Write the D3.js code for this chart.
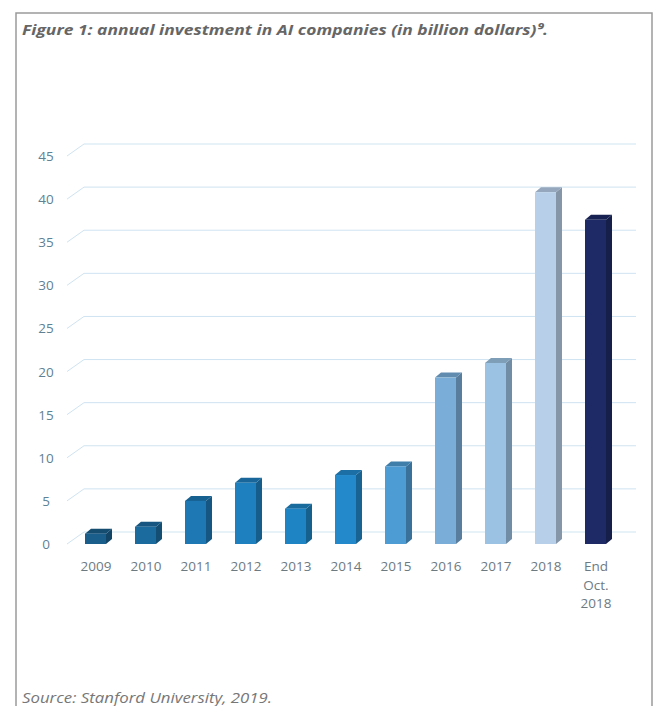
<!DOCTYPE html>
<html>
<head>
<meta charset="utf-8">
<script src="https://cdn.jsdelivr.net/npm/d3@7"></script>
<style>
  body { margin: 0; background: #fff; }
  text { font-family: "Open Sans", sans-serif; }
</style>
</head>
<body>
<script>
// chart data
var categories = ["2009", "2010", "2011", "2012", "2013", "2014", "2015", "2016", "2017", "2018", "End Oct. 2018"];
var investment = [1.2, 2, 5, 7.1, 4.1, 8, 9, 19.3, 21, 40.8, 37.6];
var barColors = ["#1a5f8c", "#1b6b9f", "#1d78b3", "#1f80bf", "#1f84c4", "#2389cb", "#4e9cd4", "#7aaed9", "#9cc2e3", "#b8cfe9", "#1e2a66"];
var yTicks = [0, 5, 10, 15, 20, 25, 30, 35, 40, 45];

var svgWidth = 658;
var svgHeight = 706;
var depth = {x: 6, y: -5};      // bar depth
var wall = {x: 17, y: -12};     // grid back wall offset

var svg = d3.select("body")
	.append("svg")
		.attr("width", svgWidth)
		.attr("height", svgHeight);

//frame
svg.append("path")
	.attr("d", "M16,720 L16,13 L652,13 L652,720")
	.attr("fill", "none")
	.attr("stroke", "#9a9a9a")
	.attr("stroke-width", 1.5);

svg.append("text")
	.attr("x", 22)
	.attr("y", 35)
	.attr("fill", "#666")
	.style("font-size", "15px")
	.style("font-weight", "bold")
	.style("font-style", "italic")
	.attr("textLength", 526)
	.attr("lengthAdjust", "spacingAndGlyphs")
	.text("Figure 1: annual investment in AI companies (in billion dollars)⁹.");

var xScale = d3.scaleBand()
	.domain(categories)
	.range([71, 621]);

var yScale = d3.scaleLinear()
	.domain([0, 45])
	.range([544, 156]);

//grid lines, drawn in perspective
var grid = svg.append("g").attr("class", "grid");
grid.selectAll("path")
	.data(yTicks)
	.enter().append("path")
		.attr("d", function(d){
			var y = yScale(d);
			return "M67," + y + " L" + (67 + wall.x) + "," + (y + wall.y) + " L636," + (y + wall.y);
		})
		.attr("fill", "none")
		.attr("stroke", "#cfe3f1")
		.attr("stroke-width", 1);

grid.selectAll("text")
	.data(yTicks)
	.enter().append("text")
		.attr("x", 46)
		.attr("y", function(d){ return yScale(d) + 5; })
		.attr("text-anchor", "middle")
		.attr("fill", "#5f8193")
		.style("font-size", "13.5px")
		.text(function(d){ return d; });

//3d bars
var barW = 21;
var bars = svg.append("g").attr("class", "bars")
	.selectAll("g")
	.data(investment)
	.enter().append("g");

function x0(i){ return xScale(categories[i]) + xScale.bandwidth() / 2 - barW / 2 - 0.5; }

bars.append("path")  // side
	.attr("d", function(d, i){
		var x = x0(i) + barW, yt = yScale(d), yb = yScale(0);
		return "M" + x + "," + yb + " L" + x + "," + yt + " L" + (x + depth.x) + "," + (yt + depth.y) +
			" L" + (x + depth.x) + "," + (yb + depth.y) + "Z";
	})
	.attr("fill", function(d, i){ return d3.color(barColors[i]).darker(0.9); });

bars.append("path")  // top
	.attr("d", function(d, i){
		var x = x0(i), yt = yScale(d);
		return "M" + x + "," + yt + " L" + (x + depth.x) + "," + (yt + depth.y) + " L" + (x + barW + depth.x) + "," + (yt + depth.y) +
			" L" + (x + barW) + "," + yt + "Z";
	})
	.attr("fill", function(d, i){ return d3.color(barColors[i]).darker(0.6); });

bars.append("rect")  // front
	.attr("x", function(d, i){ return x0(i); })
	.attr("y", function(d){ return yScale(d); })
	.attr("width", barW)
	.attr("height", function(d){ return yScale(0) - yScale(d); })
	.attr("fill", function(d, i){ return barColors[i]; });

//x labels
var xLabels = svg.append("g").attr("class", "xlabels")
	.selectAll("text")
	.data(categories)
	.enter().append("text")
		.attr("x", function(d){ return xScale(d) + xScale.bandwidth() / 2; })
		.attr("y", 571)
		.attr("text-anchor", "middle")
		.attr("fill", "#6e7a82")
		.style("font-size", "13.5px");

xLabels.each(function(d){
	var words = d === "End Oct. 2018" ? ["End", "Oct.", "2018"] : [d];
	var t = d3.select(this);
	words.forEach(function(w, k){
		t.append("tspan")
			.attr("x", t.attr("x"))
			.attr("dy", k === 0 ? 0 : 18.5)
			.text(w);
	});
});

svg.append("text")
	.attr("x", 22)
	.attr("y", 703)
	.attr("fill", "#777")
	.style("font-size", "15px")
	.style("font-style", "italic")
	.attr("textLength", 250)
	.attr("lengthAdjust", "spacingAndGlyphs")
	.text("Source: Stanford University, 2019.");
</script>
</body>
</html>
